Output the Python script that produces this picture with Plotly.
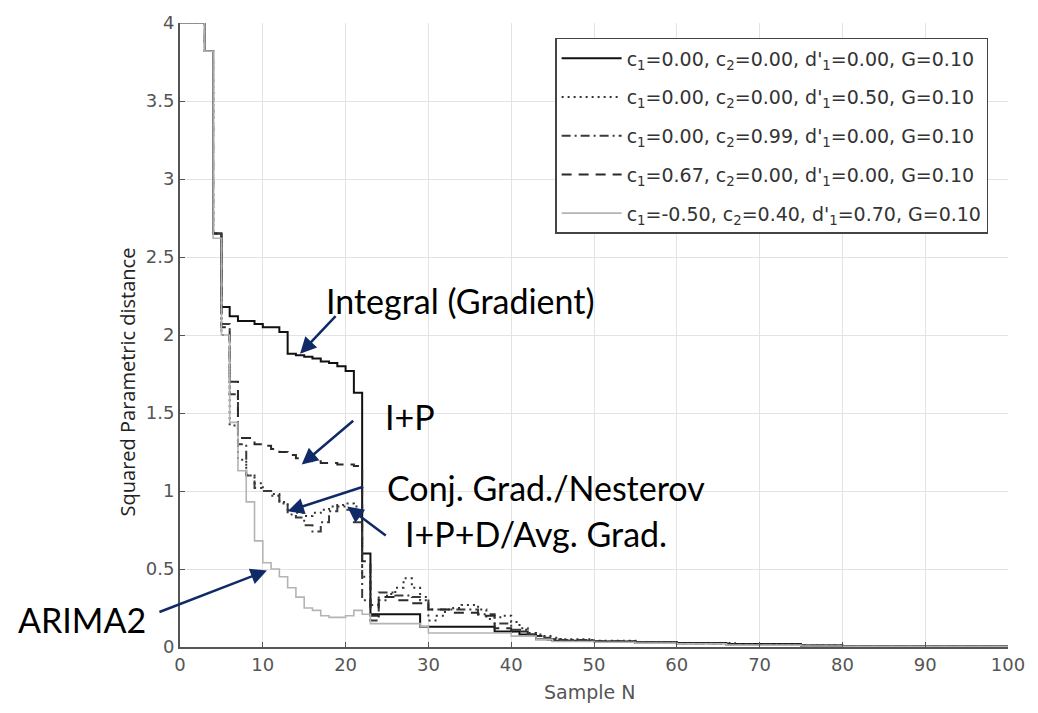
import plotly.graph_objects as go

# ---------------- data ----------------
N_axis = [0, 100]

# Integral (Gradient): c1=0, c2=0, d1=0
n_int = [0, 3, 4, 5, 6, 7, 9, 10, 12, 13, 14, 15, 16, 17, 18, 19, 20, 21, 22, 23, 29, 38, 41, 43, 45, 50, 55, 60, 66, 75, 80, 100]
v_int = [4.0, 3.82, 2.65, 2.18, 2.12, 2.09, 2.07, 2.05, 2.02, 1.88, 1.87, 1.86, 1.85, 1.83, 1.82, 1.80, 1.77, 1.63, 0.60, 0.21, 0.13, 0.10, 0.08, 0.05, 0.04, 0.035, 0.03, 0.025, 0.02, 0.01, 0.005, 0.005]

# I+P+D / Avg. Grad.: d1=0.5
n_dot = [0, 3, 4, 5, 6, 7, 8, 9, 10, 11, 12, 13, 14, 15, 16, 17, 18, 19, 20, 21, 22, 23, 24, 25, 26, 27, 28, 29, 30, 31, 32, 33, 34, 35, 36, 37, 38, 39, 40, 41, 42, 43, 45, 50, 55, 60, 67, 75, 80, 100]
v_dot = [4.0, 3.82, 2.65, 2.0, 1.42, 1.2, 1.1, 1.05, 1.0, 0.98, 0.93, 0.88, 0.86, 0.84, 0.86, 0.88, 0.90, 0.91, 0.92, 0.90, 0.45, 0.27, 0.30, 0.34, 0.38, 0.44, 0.38, 0.30, 0.17, 0.20, 0.24, 0.25, 0.27, 0.27, 0.24, 0.18, 0.19, 0.20, 0.16, 0.12, 0.09, 0.07, 0.05, 0.04, 0.03, 0.025, 0.018, 0.01, 0.005, 0.005]

# Conj. Grad. / Nesterov: c2=0.99
n_dd = [0, 3, 4, 5, 6, 7, 8, 9, 10, 11, 12, 13, 14, 15, 16, 17, 18, 19, 20, 21, 22, 23, 24, 26, 28, 30, 33, 36, 38, 40, 42, 44, 46, 50, 55, 60, 66, 75, 80, 100]
v_dd = [4.0, 3.82, 2.65, 2.07, 1.62, 1.3, 1.1, 1.02, 1.0, 0.97, 0.92, 0.85, 0.83, 0.78, 0.74, 0.80, 0.87, 0.90, 0.88, 0.80, 0.30, 0.17, 0.35, 0.33, 0.32, 0.24, 0.24, 0.21, 0.15, 0.11, 0.08, 0.06, 0.045, 0.035, 0.028, 0.022, 0.015, 0.008, 0.005, 0.005]

# I+P: c1=0.67
n_das = [0, 3, 4, 5, 6, 7, 9, 10, 11, 12, 13, 14, 15, 16, 17, 19, 21, 22, 23, 24, 26, 28, 30, 33, 36, 38, 40, 42, 44, 46, 50, 55, 60, 66, 75, 80, 100]
v_das = [4.0, 3.82, 2.65, 2.05, 1.70, 1.34, 1.30, 1.29, 1.27, 1.25, 1.23, 1.21, 1.20, 1.19, 1.18, 1.17, 1.16, 0.55, 0.20, 0.32, 0.30, 0.28, 0.24, 0.22, 0.20, 0.12, 0.10, 0.07, 0.05, 0.04, 0.035, 0.028, 0.022, 0.015, 0.008, 0.005, 0.005]

# ARIMA2: c1=-0.5, c2=0.4, d1=0.7
n_ari = [0, 3, 4, 5, 6, 7, 8, 9, 10, 11, 12, 13, 14, 15, 16, 17, 18, 20, 21, 22, 23, 29, 30, 40, 43, 45, 50, 55, 60, 66, 75, 80, 100]
v_ari = [4.0, 3.82, 2.62, 2.0, 1.44, 1.13, 0.93, 0.68, 0.54, 0.50, 0.45, 0.38, 0.32, 0.25, 0.235, 0.20, 0.19, 0.20, 0.235, 0.21, 0.15, 0.13, 0.09, 0.07, 0.05, 0.035, 0.03, 0.025, 0.02, 0.012, 0.006, 0.004, 0.004]

c1_vals = [0.00, 0.00, 0.00, 0.67, -0.50]
c2_vals = [0.00, 0.00, 0.99, 0.00, 0.40]
d1_vals = [0.00, 0.50, 0.00, 0.00, 0.70]
G_vals = [0.10, 0.10, 0.10, 0.10, 0.10]

x_ticks = [0, 10, 20, 30, 40, 50, 60, 70, 80, 90, 100]
y_ticks = [0, 0.5, 1, 1.5, 2, 2.5, 3, 3.5, 4]

labels = ["Integral (Gradient)", "I+P", "Conj. Grad./Nesterov", "I+P+D/Avg. Grad.", "ARIMA2"]
label_tips_x = [14.5, 14.7, 13.0, 20.2, 10.5]
label_tips_y = [1.88, 1.17, 0.87, 0.90, 0.49]

# ---------------- figure ----------------
series = [
    (n_int, v_int, dict(color="#111111", width=2, dash="solid")),
    (n_dot, v_dot, dict(color="#333333", width=2, dash="2px,4px")),
    (n_dd, v_dd, dict(color="#3a3a3a", width=2, dash="9px,4px,2px,4px")),
    (n_das, v_das, dict(color="#2a2a2a", width=2, dash="10px,7px")),
    (n_ari, v_ari, dict(color="#b4b4b4", width=1.6, dash="solid")),
]

fig = go.Figure()
for i, (xs, ys, ln) in enumerate(series):
    name = (f"c<sub>1</sub>={c1_vals[i]:.2f}, c<sub>2</sub>={c2_vals[i]:.2f}, "
            f"d'<sub>1</sub>={d1_vals[i]:.2f}, G={G_vals[i]:.2f}")
    fig.add_trace(go.Scatter(x=xs, y=ys, mode="lines", line=dict(shape="hv", **ln),
                             name=name, legendgroup=f"g{i}"))

axis_common = dict(showgrid=True, gridcolor="#e3e3e3", gridwidth=1, zeroline=False,
                   showline=True, linecolor="#555555", linewidth=2,
                   ticks="inside", ticklen=5, tickcolor="#555555",
                   tickfont=dict(family="DejaVu Sans", size=18, color="#555555"))
fig.update_xaxes(range=[N_axis[0], N_axis[1]], tickvals=x_ticks, **axis_common)
fig.update_yaxes(range=[0, 4], tickvals=y_ticks, ticklabelstandoff=0, **axis_common)

fig.update_layout(
    width=1038, height=713,
    margin=dict(l=180, r=30, t=18, b=66),
    plot_bgcolor="white", paper_bgcolor="white",
    legend=dict(x=0.976, y=0.976, xanchor="right", yanchor="top",
                bgcolor="white", bordercolor="#444444", borderwidth=1.5,
                font=dict(family="DejaVu Sans", size=19, color="#333333"),
                tracegroupgap=11, itemwidth=60),
    showlegend=True,
)

# axis titles
fig.add_annotation(text="Squared Parametric distance", xref="paper", yref="paper",
                   x=-0.064, y=0.424, xanchor="center", yanchor="middle",
                   textangle=-90, showarrow=False,
                   font=dict(family="Open Sans", size=20, color="#222222"))
fig.add_annotation(text="Sample N", xref="paper", yref="paper", x=0.495, y=-0.0715,
                   xanchor="center", yanchor="middle",
                   showarrow=False, font=dict(family="DejaVu Sans", size=19, color="#555555"))

# callout labels (text positions in paper units, arrows from data tips)
text_pos = [(0.3382, 0.5553), (0.2778, 0.3701), (0.4420, 0.2560), (0.4300, 0.1813), (-0.1184, 0.0442)]
arrow_off = [(37, -39), (53, -45), (77, -25), (40, 30), (-109, 42)]
navy = "#0f2a66"
for lab, (tx, ty), tipx, tipy, (ax, ay) in zip(labels, text_pos, label_tips_x, label_tips_y, arrow_off):
    fig.add_annotation(text=lab, x=tx, y=ty, xref="paper", yref="paper", showarrow=False,
                       xanchor="center", yanchor="middle",
                       font=dict(family="Lato", size=34, color="black"))
    fig.add_annotation(text="", x=tipx, y=tipy, xref="x", yref="y", ax=ax, ay=ay,
                       showarrow=True, arrowhead=2, arrowsize=1.3, arrowwidth=2.5,
                       arrowcolor=navy)

fig.write_html("out.html")
